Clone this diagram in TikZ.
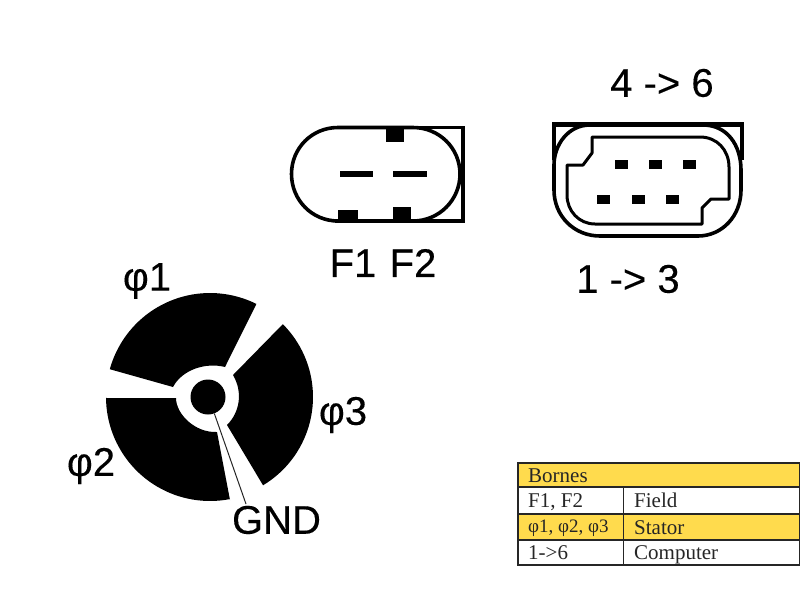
\documentclass[tikz,border=0pt]{standalone}
\usepackage{fontspec}
\setmainfont{Liberation Sans}
\newfontfamily\bigfont[FakeBold=0.3]{Liberation Sans}
\newfontfamily\tabfont{Liberation Serif}
\definecolor{tabyellow}{HTML}{FFDB4D}
\tikzset{
  big/.style={font=\bigfont\fontsize{40}{42}\selectfont,inner sep=0pt,text=black},
  tabtext/.style={font=\tabfont\fontsize{21}{23}\selectfont,inner sep=0pt,anchor=base west,text=black!85},
  tabsmall/.style={font=\tabfont\fontsize{19}{21}\selectfont,inner sep=0pt,anchor=base west,text=black!85},
  rule/.style={line width=1.3pt,black!85},
  outline/.style={draw=black,line width=3.6pt,fill=none},
  thinout/.style={draw=black,line width=3pt,fill=none,line join=round},
  pin/.style={fill=black,draw=none},
  sector/.style={fill=black,draw=none}
}
\begin{document}
\begin{tikzpicture}[x=1pt,y=1pt,yscale=-1]
\useasboundingbox (0,0) rectangle (800,600);
\fill[white] (0,0) rectangle (800,600);
% two-pin connector
\draw[outline,line join=miter] (335,127.5) -- (463,127.5) -- (463,221) -- (335,221);
\draw[outline] (338,127.5) .. controls (312,127.5) and (291.5,148) .. (291.5,174) .. controls (291.5,200) and (312,221) .. (338,221) -- (413,221) .. controls (439,221) and (460,200) .. (460,174) .. controls (460,148) and (439,127.5) .. (413,127.5) -- cycle;
\fill[pin] (386,127) rectangle (404,142);
\fill[pin] (338,210) rectangle (358,221);
\fill[pin] (393,207) rectangle (411,221);
\fill[pin] (340,171) rectangle (373,176.5);
\fill[pin] (393,171) rectangle (427,176.5);
\node[big] (f) at (383,263) {F1\,\,F2};
% six-pin connector
\draw[outline,line join=miter] (554,160) -- (554,124) -- (742,124) -- (742,160);
\fill[black] (552,121.5) rectangle (744,126.5);
\draw[outline] (590,125) -- (703,125) .. controls (727,125) and (741,145) .. (741,170) -- (741,190) .. controls (741,216) and (722,236) .. (698,236) -- (600,236) .. controls (574,236) and (554,216) .. (554,190) -- (554,165) .. controls (554,145) and (568,125) .. (590,125) -- cycle;
\draw[thinout] (592,137) -- (700,137) .. controls (717,137) and (729,150) .. (729,167) -- (729,199) -- (711,199) -- (702,208) -- (702,224) -- (595,224) .. controls (579,224) and (567,211) .. (567,195) -- (567,165) -- (583,165) -- (592,153) -- cycle;
\foreach \px in {615,649,683} \fill[pin] (\px,160) rectangle +(13,9);
\foreach \px in {597,632,666} \fill[pin] (\px,195) rectangle +(13,9);
\node[big] (top) at (662,83) {4 -> 6};
\node[big] (bot) at (628,279) {1 -> 3};
% stator plug
\fill[sector] (173,387) -- plot[domain=195.5:296.5,samples=40] ({210+104*cos(\x)},{397+104*sin(\x)}) -- (225,367) .. controls (205,362) and (182,370) .. cycle;
\fill[sector] (233,375) -- plot[domain=-45:59,samples=40] ({210+103*cos(\x)},{397+103*sin(\x)}) -- (227,425) .. controls (240,412) and (243,392) .. cycle;
\fill[sector] (106,398) -- (176,398) .. controls (176,414) and (195,433) .. (217,432) -- (230,500) -- plot[domain=79:180,samples=40] ({210+104*cos(\x)},{397+104*sin(\x)}) -- cycle;
\node[circle,fill=black,minimum size=35pt,inner sep=0pt] (hub) at (208,397) {};
\node[big] (gnd) at (276.5,520) {GND};
\coordinate (gndtop) at (246,504);
\draw[line width=1pt,black!85] (hub.-69) -- (gndtop);
\node[big] (p1) at (147,281) {φ1};
\node[big] (p2) at (91,466) {φ2};
\node[big] (p3) at (343,415) {φ3};
% table
\fill[tabyellow] (518,463) rectangle (800,487);
\fill[tabyellow] (518,514) rectangle (800,540);
\draw[rule] (518,463) rectangle (800,565);
\draw[rule] (518,487) -- (800,487);
\draw[rule] (518,514) -- (800,514);
\draw[rule] (518,540) -- (800,540);
\draw[rule] (623.5,487) -- (623.5,565);
\node[tabtext] (t1) at (528,482) {Bornes};
\node[tabtext] (t2) at (528,507) {F1, F2};
\node[tabtext] (t3) at (634,507) {Field};
\node[tabsmall] (t4) at (528,532) {φ1, φ2, φ3};
\node[tabtext] (t5) at (634,534) {Stator};
\node[tabtext] (t6) at (528,559) {1->6};
\node[tabtext] (t7) at (634,559) {Computer};
\end{tikzpicture}
\end{document}
